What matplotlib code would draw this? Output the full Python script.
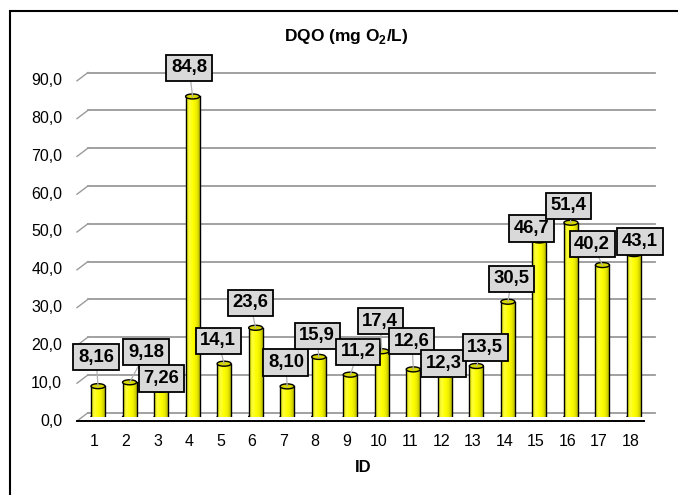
import numpy as np
import matplotlib
matplotlib.use("Agg")
import matplotlib.pyplot as plt
from matplotlib.patches import Ellipse, Rectangle
from matplotlib.colors import LinearSegmentedColormap
from matplotlib.transforms import ScaledTranslation

plt.rcParams['font.family'] = ['Liberation Sans', 'DejaVu Sans']
plt.rcParams['mathtext.fontset'] = 'custom'
plt.rcParams['mathtext.rm'] = 'Liberation Sans'
plt.rcParams['mathtext.bf'] = 'Liberation Sans:bold'

# DQO por ponto de coleta
ids = list(range(1, 19))
dqo = [8.16, 9.18, 7.26, 84.8, 14.1, 23.6, 8.10, 15.9, 11.2,
       17.4, 12.6, 12.3, 13.5, 30.5, 46.7, 51.4, 40.2, 43.1]
y_ticks = list(range(0, 100, 10))

# deslocamento dos rótulos em relação ao topo de cada barra (pixels)
label_dx = [-2, 16.5, 0, -3.5, -6, -5.5, -1.3, -1.5, 8, -1.5, -1.3, -1, 9, 4, -7.7, -2.5, -10.3, 6]
label_dy = [29, 30, 11, 28.5, 23, 25, 24, 21, 23, 30, 28, 7, 18.5, 23, 12, 17, 21, 12.5]


def fmt_br(v, d):
    return f"{v:.{d}f}".replace('.', ',')


fig = plt.figure(figsize=(6.78, 4.95), dpi=100)
W, H = 678, 495
ax = fig.add_axes([82.25 / W, 1 - 417 / H, 567.5 / W, 340.2 / H])
ax.set_xlim(0.5, 18.5)
ax.set_ylim(0, 90)
ax.axis('off')

# escala px -> unidades de dados
px_x = (18.5 - 0.5) / 567.5
px_y = 90 / 340.2

# profundidade do "3D": parede do fundo e borda da frente
back_dx, back_dy = 5.75 * px_x, 4.3 * px_y
front_dx, front_dy = -5.25 * px_x, -4.0 * px_y

grid_col = '#9a9a9a'
for v in y_ticks:
    ax.plot([0.5 + back_dx, 18.5 + back_dx], [v + back_dy, v + back_dy],
            color=grid_col, lw=1.3, clip_on=False, zorder=1)
    ax.plot([0.5 + front_dx, 0.5 + back_dx], [v + front_dy, v + back_dy],
            color=grid_col, lw=1.0, clip_on=False, zorder=1)
    ax.text(0, v, fmt_br(v, 1), fontsize=11.5, ha='right', va='center',
            transform=ax.get_yaxis_transform() + ScaledTranslation(-0.20, -0.04, fig.dpi_scale_trans))

# borda frontal do piso
ax.plot([0.5 + front_dx, 18.5 + front_dx], [front_dy, front_dy],
        color='black', lw=1.4, clip_on=False, zorder=2)

for i in ids:
    ax.text(i, 0, str(i), fontsize=11.5, ha='center', va='center',
            transform=ax.get_xaxis_transform() + ScaledTranslation(-0.035, -0.25, fig.dpi_scale_trans))

# cilindros
bar_w = 14 * px_x
ell_h = 5 * px_y
cyl = LinearSegmentedColormap.from_list(
    'cyl', ['#d8d800', '#ffff40', '#ffff00', '#f0f000', '#bcbc00'])
grad = np.linspace(0, 1, 64).reshape(1, -1)

for x, v in zip(ids, dqo):
    left = x - bar_w / 2
    ax.add_patch(Ellipse((x, 0), bar_w, ell_h, fc='#e0e000', ec='black', lw=1.0, zorder=3))
    body = Rectangle((left, 0), bar_w, v, fc='none', ec='none', zorder=3.1)
    ax.add_patch(body)
    im = ax.imshow(grad, cmap=cyl, extent=(left, left + bar_w, 0, v),
                   aspect='auto', interpolation='bicubic', zorder=3.1)
    im.set_clip_path(body)
    ax.plot([left, left], [0, v], color='black', lw=1.0, zorder=3.2)
    ax.plot([left + bar_w, left + bar_w], [0, v], color='black', lw=1.0, zorder=3.2)
    ax.add_patch(Ellipse((x, v), bar_w, ell_h, fc='#d6d600', ec='black', lw=1.0, zorder=3.3))

ax.set_xlim(0.5, 18.5)
ax.set_ylim(0, 90)

# rótulos de dados
for x, v, dx, dy in zip(ids, dqo, label_dx, label_dy):
    d = 2 if v < 10 else 1
    ax.annotate(fmt_br(v, d), xy=(x, v), xytext=(dx, dy), textcoords='offset pixels',
                ha='center', va='center', fontsize=13.3, fontweight='bold',
                bbox=dict(boxstyle='square,pad=0.25', fc='#d9d9d9', ec='black', lw=1.3),
                arrowprops=dict(arrowstyle='-', color='#b0b0b0', lw=0.9,
                                shrinkA=0, shrinkB=0),
                zorder=5, annotation_clip=False)

fig.text(346.7 / W, 1 - 37 / H, r'DQO (mg O$_\mathbf{2}$/L)', fontsize=12.5,
         fontweight='bold', ha='center', va='center')
fig.text(363 / W, 1 - 467 / H, 'ID', fontsize=12, fontweight='bold',
         ha='center', va='center')

# moldura do gráfico
fig.patches.append(Rectangle((10 / W, -0.02), 1.05, 1 - 11 / H + 0.02, transform=fig.transFigure,
                             fill=False, ec='black', lw=1.5))

fig.savefig('out.png', dpi=100)
